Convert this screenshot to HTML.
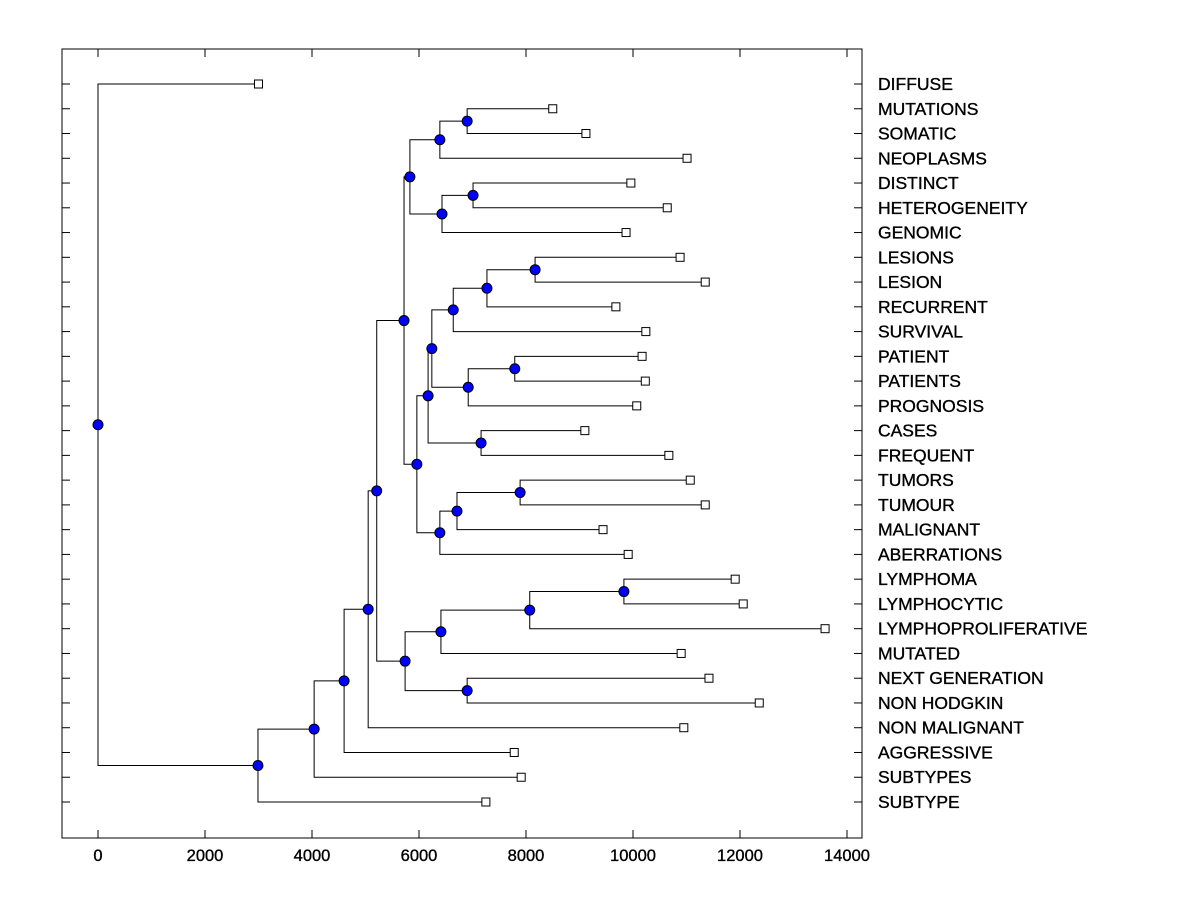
<!DOCTYPE html>
<html><head><meta charset="utf-8"><style>
body{margin:0;background:#fff;}
svg{display:block;font-family:"Liberation Sans",Arial,sans-serif;}
text{stroke:#000;stroke-width:0.35;}
</style></head><body>
<svg id="c" width="1200" height="900"></svg>
<script>
const leafLabels=["DIFFUSE","MUTATIONS","SOMATIC","NEOPLASMS","DISTINCT","HETEROGENEITY","GENOMIC","LESIONS","LESION","RECURRENT","SURVIVAL","PATIENT","PATIENTS","PROGNOSIS","CASES","FREQUENT","TUMORS","TUMOUR","MALIGNANT","ABERRATIONS","LYMPHOMA","LYMPHOCYTIC","LYMPHOPROLIFERATIVE","MUTATED","NEXT GENERATION","NON HODGKIN","NON MALIGNANT","AGGRESSIVE","SUBTYPES","SUBTYPE"];
const leafValues=[3000,8500,9120,11010,9960,10640,9870,10880,11350,9680,10240,10170,10230,10070,9100,10670,11070,11350,9440,9910,11910,12060,13590,10900,11420,12360,10950,7780,7910,7250];
const mergeLeft=["L1","M0","L4","M2","M1","L7","M5","M6","L11","M8","M7","L14","M10","L16","M13","M14","M12","M4","L20","M18","M19","L24","M20","M17","M23","M24","M25","M26","L0"];
const mergeRight=["L2","L3","L5","L6","M3","L8","L9","L10","L12","L13","M9","L15","M11","L17","L18","L19","M15","M16","L21","L22","L23","L25","M21","M22","L26","L27","L28","L29","M27"];
const mergeHeights=[6900,6390,7010,6430,5830,8170,7270,6640,7790,6920,6240,7160,6170,7890,6710,6390,5960,5720,9830,8070,6410,6900,5740,5210,5050,4600,4040,2990,0];
const xTicks=[0,2000,4000,6000,8000,10000,12000,14000];

const NS="http://www.w3.org/2000/svg";
const svg=document.getElementById('c');
const L=62,R=862,T=49,B=838;
const X=v=>98+v*(749/14000);
const rowY=i=>84+i*(718/29);
function el(tag,attrs,parent){const e=document.createElementNS(NS,tag);for(const k in attrs)e.setAttribute(k,attrs[k]);(parent||svg).appendChild(e);return e;}

const frame=el('rect',{x:L,y:T,width:R-L,height:B-T,fill:'none',stroke:'#000','stroke-width':1});



const ax=el('g',{});


xTicks.forEach(t=>{
  const x=X(t);
  el('line',{x1:x,y1:B,x2:x,y2:B-8,stroke:'#000'},ax);
  el('line',{x1:x,y1:T,x2:x,y2:T+8,stroke:'#000'},ax);
  const tx=el('text',{x:x,y:B+23,'text-anchor':'middle','font-size':16.5},ax);
  tx.textContent=t;
  
  
});

const pos={};
leafLabels.forEach((n,i)=>{pos['L'+i]={x:X(leafValues[i]),y:rowY(i)};});
mergeHeights.forEach((h,i)=>{
  const a=pos[mergeLeft[i]],b=pos[mergeRight[i]];
  pos['M'+i]={x:X(h),y:(a.y+b.y)/2};
});

const lines=el('g',{});


mergeHeights.forEach((h,i)=>{
  const a=pos[mergeLeft[i]],b=pos[mergeRight[i]],x=X(h);
  el('polyline',{points:`${a.x},${a.y} ${x},${a.y} ${x},${b.y} ${b.x},${b.y}`,fill:'none',stroke:'#000','stroke-width':1},lines);
});

const ly=el('g',{});


leafLabels.forEach((n,i)=>{
  const y=rowY(i);
  el('line',{x1:L,y1:y,x2:L+8,y2:y,stroke:'#000'},ly);
  el('line',{x1:R,y1:y,x2:R-8,y2:y,stroke:'#000'},ly);
  const sq=el('rect',{x:pos['L'+i].x-4,y:y-4,width:8,height:8,fill:'#fff',stroke:'#000'});
  
  
  const t=el('text',{x:878,y:y+6,'font-size':17.5},ly);
  t.textContent=n;
  
  
});

mergeHeights.forEach((h,i)=>{
  const p=pos['M'+i];
  const c=el('circle',{cx:p.x,cy:p.y,r:5,fill:'#0000ff',stroke:'#000','stroke-width':1});
  
  
});
</script>
</body></html>
